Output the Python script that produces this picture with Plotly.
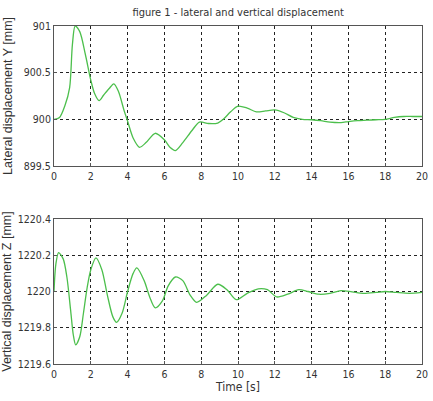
import plotly.graph_objects as go
from plotly.subplots import make_subplots

# Lateral displacement Y
t_y = [0, 0.3, 0.6, 0.85, 1.0, 1.15, 1.4, 1.7, 2.0, 2.2, 2.45, 2.7, 3.0, 3.25, 3.5, 3.8, 4.0, 4.3, 4.65,
       5.0, 5.5, 6.0, 6.3, 6.6, 7.0, 7.5, 7.9, 8.4, 8.9, 9.2, 9.6, 10.0, 10.5, 11.0, 11.5, 12.0, 12.5,
       13.0, 13.5, 14.0, 14.5, 15.0, 15.6, 16.0, 16.5, 17.0, 17.5, 18.0, 18.5, 19.0, 19.5, 20.0]
lat_y = [900.0, 900.02, 900.15, 900.34, 900.8, 901.0, 900.94, 900.7, 900.42, 900.28, 900.2, 900.26, 900.33,
         900.38, 900.3, 900.1, 899.98, 899.8, 899.7, 899.75, 899.85, 899.78, 899.7, 899.665, 899.75,
         899.88, 899.97, 899.955, 899.96, 900.0, 900.08, 900.14, 900.12, 900.08, 900.09, 900.1, 900.07,
         900.02, 900.0, 899.995, 899.985, 899.97, 899.965, 899.975, 899.985, 899.99, 899.995, 900.0,
         900.02, 900.03, 900.03, 900.03]

# Vertical displacement Z
t_z = [0, 0.1, 0.25, 0.5, 0.7, 0.9, 1.05, 1.18, 1.4, 1.6, 1.8, 2.0, 2.28, 2.6, 2.9, 3.2, 3.4, 3.7, 4.0,
       4.3, 4.5, 4.9, 5.2, 5.5, 5.9, 6.2, 6.6, 7.0, 7.4, 7.75, 8.3, 8.9, 9.4, 9.9, 10.5, 11.1, 11.6,
       12.1, 12.7, 13.3, 13.8, 14.4, 15.0, 15.6, 16.2, 16.8, 17.5, 18.0, 18.6, 19.3, 20.0]
vert_z = [1220.0, 1220.15, 1220.215, 1220.18, 1220.08, 1219.9, 1219.76, 1219.705, 1219.75, 1219.88,
          1220.02, 1220.12, 1220.185, 1220.12, 1219.98, 1219.86, 1219.83, 1219.88, 1220.0, 1220.1,
          1220.13, 1220.06, 1219.97, 1219.91, 1219.95, 1220.03, 1220.08, 1220.06, 1219.98, 1219.94,
          1219.98, 1220.04, 1220.01, 1219.955, 1219.99, 1220.015, 1220.01, 1219.97, 1219.985, 1220.01,
          1220.0, 1219.985, 1219.99, 1220.005, 1219.998, 1219.99, 1219.995, 1220.0, 1219.995, 1219.99,
          1219.995]

x_ticks = list(range(0, 21, 2))
y1_ticks = [899.5, 900, 900.5, 901]
y2_ticks = [1219.6, 1219.8, 1220, 1220.2, 1220.4]

green = "#4cbf4c"
fig = make_subplots(rows=2, cols=1, vertical_spacing=0.1)
fig.add_trace(go.Scatter(x=t_y, y=lat_y, mode="lines", line=dict(color=green, width=1.3, shape="spline", smoothing=0.8)), row=1, col=1)
fig.add_trace(go.Scatter(x=t_z, y=vert_z, mode="lines", line=dict(color=green, width=1.3, shape="spline", smoothing=0.8)), row=2, col=1)

narrow = "DejaVu Sans Condensed, Liberation Sans Narrow, Arial Narrow, sans-serif"
tickfont = dict(family=narrow, size=10.5, color="#333333")
axcommon = dict(showline=True, linecolor="#555555", linewidth=1, mirror=True, showgrid=True,
                gridcolor="#222222", griddash="dot", gridwidth=1, ticks="inside", ticklen=3,
                tickcolor="#555555", tickfont=tickfont, zeroline=False, ticklabeloverflow="allow")

fig.update_xaxes(range=[0, 20], tickvals=x_ticks, ticktext=[str(v) for v in x_ticks], **axcommon)
fig.update_yaxes(**axcommon)
ytitlefont = dict(family="Liberation Sans, Arial", size=12.5, color="#333333")
fig.update_yaxes(range=[899.5, 901], tickvals=y1_ticks, ticktext=["899.5", "900", "900.5", "901"], row=1, col=1,
                 title=dict(text="Lateral displacement Y [mm]", font=ytitlefont, standoff=8))
fig.update_yaxes(range=[1219.6, 1220.4], tickvals=y2_ticks, ticktext=["1219.6", "1219.8", "1220", "1220.2", "1220.4"], row=2, col=1,
                 title=dict(text="Vertical displacement Z [mm]", font=ytitlefont, standoff=4))
fig.update_xaxes(title=dict(text="Time [s]", font=dict(family=narrow, size=12, color="#333333"), standoff=4), row=2, col=1)

fig.update_layout(
    width=433, height=401,
    margin=dict(l=48, r=5, t=26, b=37),
    paper_bgcolor="white", plot_bgcolor="white",
    showlegend=False,
    title=dict(text="figure 1 - lateral and vertical displacement", x=0.55, xanchor="center", y=0.97, yanchor="middle",
               font=dict(family=narrow, size=11, color="#333333")),
)
fig.update_layout(yaxis=dict(domain=[0.586, 1.0]), yaxis2=dict(domain=[0.0, 0.429]))

fig.write_html("out.html")
